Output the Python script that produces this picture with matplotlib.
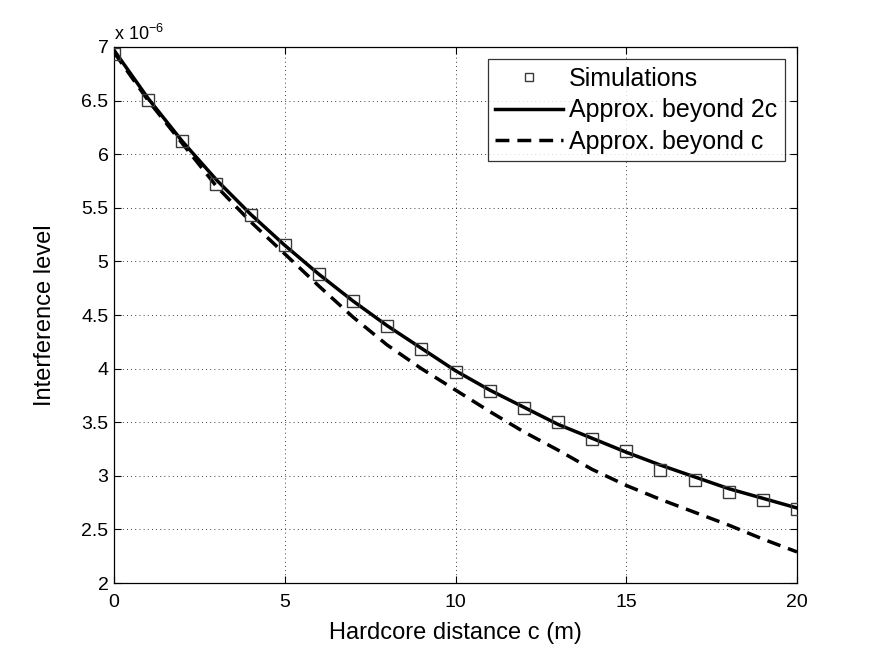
import matplotlib
matplotlib.use("Agg")
import matplotlib.pyplot as plt

# hardcore distance (m)
c_vals = list(range(0, 21))

# simulation results (x 1e-6)
sim = [6.93, 6.51, 6.12, 5.72, 5.43, 5.15, 4.88, 4.63, 4.40, 4.18, 3.97,
       3.79, 3.63, 3.50, 3.34, 3.23, 3.05, 2.96, 2.85, 2.77, 2.69]
# approximation beyond 2c
approx_2c = [6.97, 6.52, 6.12, 5.76, 5.44, 5.15, 4.88, 4.63, 4.40, 4.19, 3.98,
             3.80, 3.64, 3.48, 3.35, 3.22, 3.10, 2.99, 2.88, 2.79, 2.70]
# approximation beyond c
approx_c = [6.95, 6.50, 6.10, 5.70, 5.37, 5.07, 4.77, 4.48, 4.22, 4.00, 3.80,
            3.60, 3.41, 3.24, 3.06, 2.91, 2.78, 2.66, 2.54, 2.41, 2.29]

plt.rcParams['font.family'] = ['Liberation Sans', 'DejaVu Sans']
plt.rcParams['mathtext.fontset'] = 'custom'
plt.rcParams['mathtext.rm'] = 'Liberation Sans'

fig = plt.figure(figsize=(8.75, 6.59), dpi=100)
ax = fig.add_axes([0.1303, 0.1153, 0.7806, 0.8134])

ax.plot(c_vals, sim, linestyle="none", marker="s", markersize=8,
        markerfacecolor="none", markeredgecolor="#3a3a3a", markeredgewidth=1.0,
        label="Simulations", zorder=3)
ax.plot(c_vals, approx_2c, color="black", linewidth=2.5,
        label="Approx. beyond 2c", zorder=2)
ax.plot(c_vals, approx_c, color="black", linewidth=2.5, linestyle=(0, (4, 2.3)),
        label="Approx. beyond c", zorder=2)

ax.set_xlim(0, 20)
ax.set_ylim(2, 7)
ax.set_xticks([0, 5, 10, 15, 20])
ax.set_yticks([2, 2.5, 3, 3.5, 4, 4.5, 5, 5.5, 6, 6.5, 7])
ax.set_yticklabels(["2", "2.5", "3", "3.5", "4", "4.5", "5", "5.5", "6", "6.5", "7"])

ax.grid(True, color="black", linestyle=(0, (1, 4)), linewidth=0.6)
ax.tick_params(direction="in", top=True, right=True, labelsize=14, length=5,
               width=0.8, pad=4)
ax.tick_params(axis="x", pad=8)
for s in ax.spines.values():
    s.set_linewidth(0.9)

ax.set_xlabel("Hardcore distance c (m)", fontsize=17, labelpad=8)
ax.set_ylabel("Interference level", fontsize=17, labelpad=18)
ax.text(0.0, 1.005, r"x 10$^{-6}$", transform=ax.transAxes, fontsize=13,
        ha="left", va="bottom")

leg = ax.legend(loc="upper right", fontsize=18, frameon=True, fancybox=False,
                edgecolor="black", borderaxespad=0.5, handlelength=2.7,
                handletextpad=0.25, labelspacing=0.3, borderpad=0.3,
                markerscale=0.8)
leg.get_frame().set_linewidth(0.9)

fig.savefig("out.png", dpi=100)
